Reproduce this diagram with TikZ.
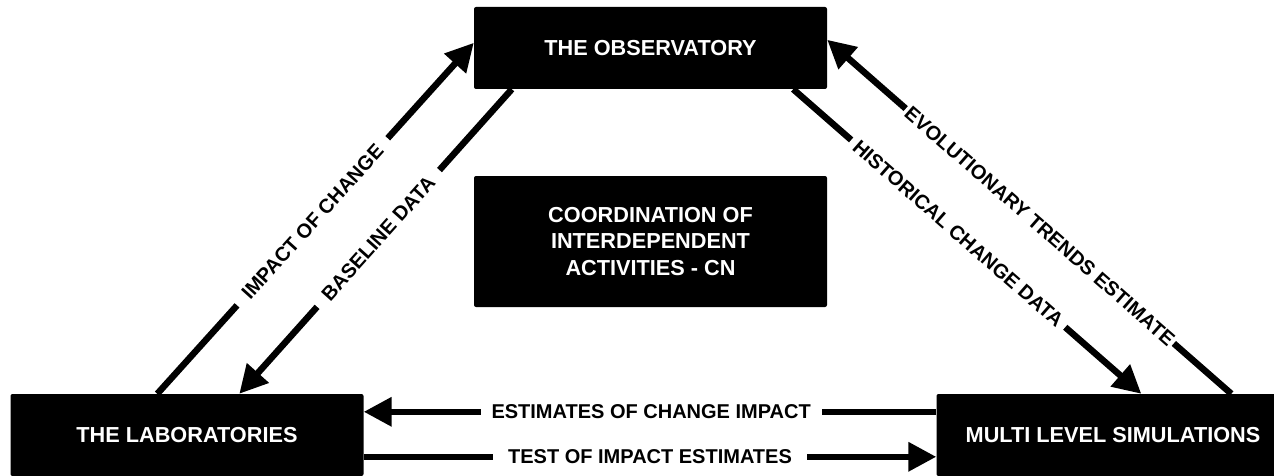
\documentclass[tikz,border=0pt]{standalone}
\usepackage{fontspec}
\setmainfont{Liberation Sans}
\usetikzlibrary{arrows.meta,calc}
\begin{document}
\begin{tikzpicture}[x=1pt,y=-1pt,
  box/.style={fill=black, rounded corners=2pt, text=white,
    font=\bfseries\fontsize{21.7}{26.5}\selectfont,
    minimum width=353pt, minimum height=82pt, align=center, inner sep=0pt},
  conn/.style={line width=6.5pt, -{Triangle[length=28pt,width=28pt]}},
  lbl/.style={fill=white, font=\bfseries\fontsize{20}{24}\selectfont,
    inner ysep=3pt, sloped}
]
\clip (0,0) rectangle (1274,476);
\node[box] (obs) at (650.5,48) {THE OBSERVATORY};
\node[box, minimum height=131pt] (coord) at (650.5,241.5)
  {COORDINATION OF\\INTERDEPENDENT\\ACTIVITIES - CN};
\node[box] (lab) at (187,435) {THE LABORATORIES};
\node[box] (mls) at (1113,435) {MULTI LEVEL SIMULATIONS};

\draw[conn] ($(lab.north west)+(147,0)$) --
  node[lbl, inner xsep=12pt, pos=0.49] {IMPACT OF CHANGE}
  ($(obs.north west)+(0,36)$);
\draw[conn] ($(obs.south west)+(38,0)$) --
  node[lbl, inner xsep=12pt, pos=0.49] {BASELINE DATA}
  ($(lab.north west)+(229,0)$);
\draw[conn] ($(obs.south east)+(-34,0)$) --
  node[lbl, inner xsep=6pt, pos=0.474] {HISTORICAL CHANGE DATA}
  ($(mls.north west)+(205,0)$);
\draw[conn] ($(mls.north west)+(295,0)$) --
  node[lbl, inner xsep=2.5pt, pos=0.474] {EVOLUTIONARY TRENDS ESTIMATE}
  ($(obs.north east)+(0,33)$);
\draw[conn] ($(mls.north west)+(0,18)$) --
  node[lbl, inner xsep=11pt, pos=0.498] {ESTIMATES OF CHANGE IMPACT}
  ($(lab.north east)+(0,18)$);
\draw[conn] ($(lab.north east)+(0,63)$) --
  node[lbl, inner xsep=15pt, pos=0.5] {TEST OF IMPACT ESTIMATES}
  ($(mls.north west)+(0,63)$);
\end{tikzpicture}
\end{document}
